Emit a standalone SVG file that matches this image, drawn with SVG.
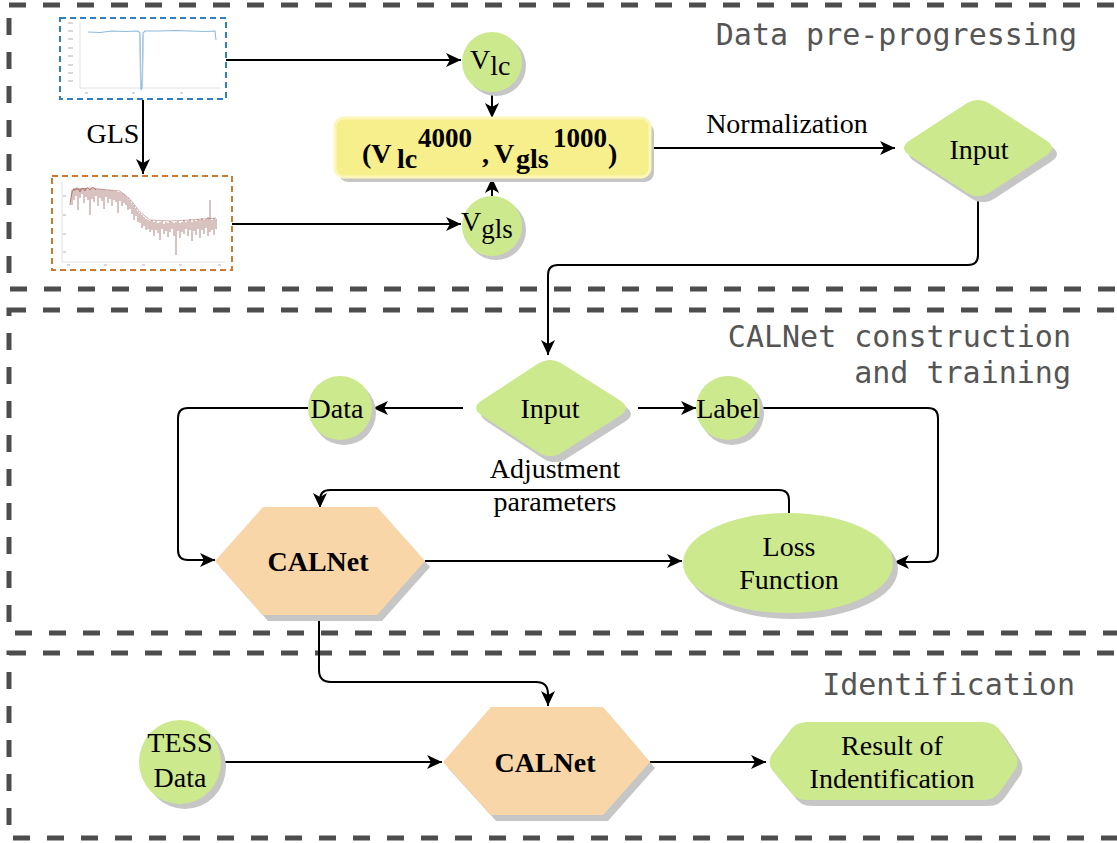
<svg xmlns="http://www.w3.org/2000/svg" xmlns:xlink="http://www.w3.org/1999/xlink" width="1117" height="843" viewBox="0 0 1117 843">
  <style>
    .section { fill: none; stroke: #4d4d4d; stroke-width: 5; stroke-dasharray: 17 17; }
    .title { font-family: "DejaVu Sans Mono", "Liberation Mono", monospace; font-size: 30px; fill: #555555; text-anchor: end; }
    .lbl { font-family: "Liberation Serif", "Times New Roman", serif; font-size: 28px; fill: #000; text-anchor: middle; }
    .lbl.start { text-anchor: start; }
    .bold { font-weight: bold; }
    .green { fill: #cde98e; }
    .peach { fill: #f9d6a8; }
    .shadow { fill: #c6c6c6; }
    .edge { fill: none; stroke: #000; stroke-width: 2; }
    .axis { stroke: #d8d8d8; stroke-width: 0.8; fill: none; }
    .tick { stroke: #b0b0b0; stroke-width: 1; }
  </style>
  <defs>
    <marker id="arrow" markerUnits="userSpaceOnUse" markerWidth="16" markerHeight="14" refX="15" refY="7" orient="auto">
      <path d="M0,0 L15,7 L0,14 L4,7 Z" fill="#000"/>
    </marker>
    <!-- reusable node outlines (fill comes from the <use>) -->
    <circle id="c-vlc" cx="492" cy="62" r="30"/>
    <circle id="c-vgls" cx="492" cy="226" r="30"/>
    <rect id="r-pair" x="335" y="118" width="315" height="59" rx="9"/>
    <path id="d-input1" d="M990,103.8 L1046,140.2 Q1058,148 1046,155.8 L990,192.2 Q978,200 966,192.2 L910,155.8 Q898,148 910,140.2 L966,103.8 Q978,96 990,103.8 Z"/>
    <path id="d-input2" d="M562.2,363.8 L619.8,400.2 Q632,408 619.8,415.8 L562.2,452.2 Q550,460 537.8,452.2 L482.2,415.8 Q470,408 482.2,400.2 L537.8,363.8 Q550,356 562.2,363.8 Z"/>
    <circle id="c-data" cx="340" cy="408" r="32"/>
    <circle id="c-label" cx="728" cy="408" r="32"/>
    <polygon id="h-calnet1" points="215,561 263,507 377,507 425,561 377,615 263,615"/>
    <ellipse id="e-loss" cx="788" cy="563" rx="105" ry="50"/>
    <ellipse id="e-tess" cx="180" cy="762" rx="41" ry="42"/>
    <polygon id="h-calnet2" points="443,762 491,707 603,707 650,762 603,815 491,815"/>
    <path id="h-result" d="M807,722 H983 Q995,722 1001,732 L1015,754 Q1020,762 1015,770 L1001,790 Q995,800 983,800 H807 Q795,800 789,790 L772,770 Q767,762 772,754 L789,732 Q795,722 807,722 Z"/>
  </defs>

  <rect width="1117" height="843" fill="#ffffff"/>

  <!-- stage frames -->
  <g id="stages">
    <rect class="section" x="9" y="5" width="1125" height="284"/>
    <rect class="section" x="9" y="310" width="1125" height="323"/>
    <rect class="section" x="9" y="653" width="1125" height="185"/>
    <text class="title" x="1077" y="45">Data pre-progressing</text>
    <text class="title" x="1071" y="347">CALNet construction</text>
    <text class="title" x="1071" y="383">and training</text>
    <text class="title" x="1075" y="695">Identification</text>
  </g>

  <!-- light curve thumbnail -->
  <g id="lightcurve">
    <rect x="60" y="18" width="166" height="81" fill="#ffffff" stroke="#2f7fc1" stroke-width="2" stroke-dasharray="6 4"/>
    <path class="axis" d="M80,22 V88 H220"/>
    <g class="tick">
      <path d="M68,23 h5 M68,31 h5 M68,39 h5 M68,48 h5 M68,56 h5 M68,65 h5 M68,73 h5 M68,81 h5"/>
      <path d="M85,93 h3 M132,93 h3 M180,93 h3"/>
    </g>
    <path d="M88,32 L100,32.5 L112,31 L125,31.5 L138,31 L140,33 L141,90 L142,88 L143,33 L145,31 L160,31 L175,30.5 L190,31 L205,31.5 L215,31 L216,40" fill="none" stroke="#8fbadb" stroke-width="1.1"/>
    <path d="M139.5,34 L140.5,85 M142.5,85 L143.5,35" fill="none" stroke="#b5d0e6" stroke-width="1"/>
  </g>

  <!-- periodogram thumbnail -->
  <g id="periodogram">
    <rect x="52" y="176" width="180" height="94" fill="#ffffff" stroke="#cc7a30" stroke-width="2" stroke-dasharray="6 4"/>
    <path class="axis" d="M62,182 V262 H225"/>
    <g class="tick">
      <path d="M63,196 h3 M63,215 h3 M63,234 h3 M63,252 h3"/>
      <path d="M67,265 h3 M104,265 h3 M142,265 h3 M179,265 h3 M218,265 h3"/>
    </g>
    <path d="M70,205 Q72,186 75,190 Q77,185 80,192 Q82,185 85,191 Q87,185 90,190 Q93,185 96,190" fill="none" stroke="#a76a63" stroke-width="0.8"/>
    <path fill="none" stroke="#8d4a44" stroke-width="0.9" stroke-opacity="0.75" d="M72,190 V205 M74,188 V200 M76,188 V196 M78,188 V210 M80,188 V198 M82,188 V194 M84,188 V203 M86,188 V197 M88,189 V200 M90,189 V215 M92,189 V199 M94,189 V202 M96,189 V196 M98,189 V206 M100,189 V198 M102,189 V201 M104,189 V209 M106,190 V197 M108,190 V203 M110,190 V199 M112,190 V206 M114,191 V200 M116,191 V202 M118,192 V213 M120,192 V201 M122,193 V206 M124,194 V203 M126,196 V205 M128,198 V210 M130,200 V209 M132,203 V214 M134,205 V220 M136,208 V216 M138,211 V222 M140,213 V223 M142,215 V228 M144,217 V226 M146,219 V230 M148,220 V229 M150,221 V232 M152,220 V230 M154,222 V236 M156,221 V230 M158,223 V233 M160,222 V240 M162,221 V229 M164,224 V234 M166,222 V231 M168,223 V237 M170,221 V232 M172,222 V229 M174,223 V236 M176,222 V255 M178,221 V231 M180,223 V238 M182,222 V232 M184,220 V234 M186,222 V229 M188,221 V236 M190,219 V230 M192,222 V241 M194,220 V231 M196,221 V235 M198,219 V229 M200,220 V238 M202,218 V230 M204,220 V234 M206,219 V228 M208,217 V236 M210,200 V232 M212,220 V230 M214,218 V235 M216,219 V229"/>
    <path d="M72,190 L90,188 L120,191 L130,199 L140,212 L150,220 L170,221 L190,220 L216,218" fill="none" stroke="#9b5b54" stroke-width="0.8" stroke-opacity="0.6"/>
  </g>

  <!-- connectors -->
  <g id="connectors">
    <path class="edge" d="M143,100 V174" marker-end="url(#arrow)"/>
    <text class="lbl" x="113" y="143">GLS</text>
    <path class="edge" d="M226,60 H461" marker-end="url(#arrow)"/>
    <path class="edge" d="M232,224 H461" marker-end="url(#arrow)"/>
    <path class="edge" d="M492,92 V118" marker-end="url(#arrow)"/>
    <path class="edge" d="M492,196 V178" marker-end="url(#arrow)"/>
    <path class="edge" d="M650,148 H895" marker-end="url(#arrow)"/>
    <text class="lbl" x="787" y="133">Normalization</text>
    <path class="edge" d="M978,200 V255 Q978,265 968,265 H558 Q548,265 548,275 V355" marker-end="url(#arrow)"/>
    <path class="edge" d="M463,408 H373" marker-end="url(#arrow)"/>
    <path class="edge" d="M638,408 H696" marker-end="url(#arrow)"/>
    <path class="edge" d="M308,408 H188 Q178,408 178,418 V550 Q178,560 188,560 H215" marker-end="url(#arrow)"/>
    <path class="edge" d="M760,408 H928 Q938,408 938,418 V552 Q938,562 928,562 H894" marker-end="url(#arrow)"/>
    <path class="edge" d="M425,561 H682" marker-end="url(#arrow)"/>
    <path class="edge" d="M789,513 V500 Q789,490 779,490 H330 Q320,490 320,500 V508" marker-end="url(#arrow)"/>
    <text class="lbl" x="555" y="478">Adjustment</text>
    <text class="lbl" x="555" y="511">parameters</text>
    <path class="edge" d="M319,615 V670 Q319,682 331,682 H536 Q548,682 548,694 V706" marker-end="url(#arrow)"/>
    <path class="edge" d="M222,762 H442" marker-end="url(#arrow)"/>
    <path class="edge" d="M650,762 H766" marker-end="url(#arrow)"/>
  </g>

  <g id="node-vlc">
    <use xlink:href="#c-vlc" class="shadow" transform="translate(4,4)"/>
    <use xlink:href="#c-vlc" class="green"/>
    <text class="lbl start" x="470" y="69" font-size="31">V<tspan font-size="28" dy="6">lc</tspan></text>
  </g>

  <g id="node-vgls">
    <use xlink:href="#c-vgls" class="shadow" transform="translate(4,4)"/>
    <use xlink:href="#c-vgls" class="green"/>
    <text class="lbl start" x="461" y="231" font-size="31">V<tspan font-size="27" dy="7">gls</tspan></text>
  </g>

  <g id="node-pair">
    <use xlink:href="#r-pair" class="shadow" transform="translate(4,5)"/>
    <use xlink:href="#r-pair" fill="#f6ef8b" stroke="#fbf7b9" stroke-width="3"/>
    <text class="lbl start bold" font-size="38"><tspan x="362" y="163">(V</tspan><tspan x="397" y="168" font-size="28">lc</tspan><tspan x="418" y="147" font-size="27">4000</tspan><tspan x="482" y="163">,</tspan><tspan x="494" y="163">V</tspan><tspan x="516" y="168" font-size="28">gls</tspan><tspan x="553" y="147" font-size="27">1000</tspan><tspan x="608" y="163">)</tspan></text>
  </g>

  <g id="node-input1">
    <use xlink:href="#d-input1" class="shadow" transform="translate(5,6)"/>
    <use xlink:href="#d-input1" class="green"/>
    <text class="lbl" x="979" y="159">Input</text>
  </g>

  <g id="node-input2">
    <use xlink:href="#d-input2" class="shadow" transform="translate(5,6)"/>
    <use xlink:href="#d-input2" class="green"/>
    <text class="lbl" x="550" y="418">Input</text>
  </g>

  <g id="node-data">
    <use xlink:href="#c-data" class="shadow" transform="translate(4,5)"/>
    <use xlink:href="#c-data" class="green"/>
    <text class="lbl" x="337" y="418">Data</text>
  </g>

  <g id="node-label">
    <use xlink:href="#c-label" class="shadow" transform="translate(4,5)"/>
    <use xlink:href="#c-label" class="green"/>
    <text class="lbl" x="728" y="418">Label</text>
  </g>

  <g id="node-calnet1">
    <use xlink:href="#h-calnet1" class="shadow" transform="translate(5,6)"/>
    <use xlink:href="#h-calnet1" class="peach"/>
    <text class="lbl bold" x="318" y="571">CALNet</text>
  </g>

  <g id="node-loss">
    <use xlink:href="#e-loss" class="shadow" transform="translate(5,6)"/>
    <use xlink:href="#e-loss" class="green"/>
    <text class="lbl" x="789" y="556">Loss</text>
    <text class="lbl" x="789" y="589">Function</text>
  </g>

  <g id="node-tess">
    <use xlink:href="#e-tess" class="shadow" transform="translate(5,5)"/>
    <use xlink:href="#e-tess" class="green"/>
    <text class="lbl" x="180" y="752">TESS</text>
    <text class="lbl" x="180" y="787">Data</text>
  </g>

  <g id="node-calnet2">
    <use xlink:href="#h-calnet2" class="shadow" transform="translate(5,6)"/>
    <use xlink:href="#h-calnet2" class="peach"/>
    <text class="lbl bold" x="545" y="772">CALNet</text>
  </g>

  <g id="node-result">
    <use xlink:href="#h-result" class="shadow" transform="translate(5,6)"/>
    <use xlink:href="#h-result" class="green"/>
    <text class="lbl" x="892" y="755" font-size="29">Result of</text>
    <text class="lbl" x="892" y="788" font-size="29">Indentification</text>
  </g>
</svg>
